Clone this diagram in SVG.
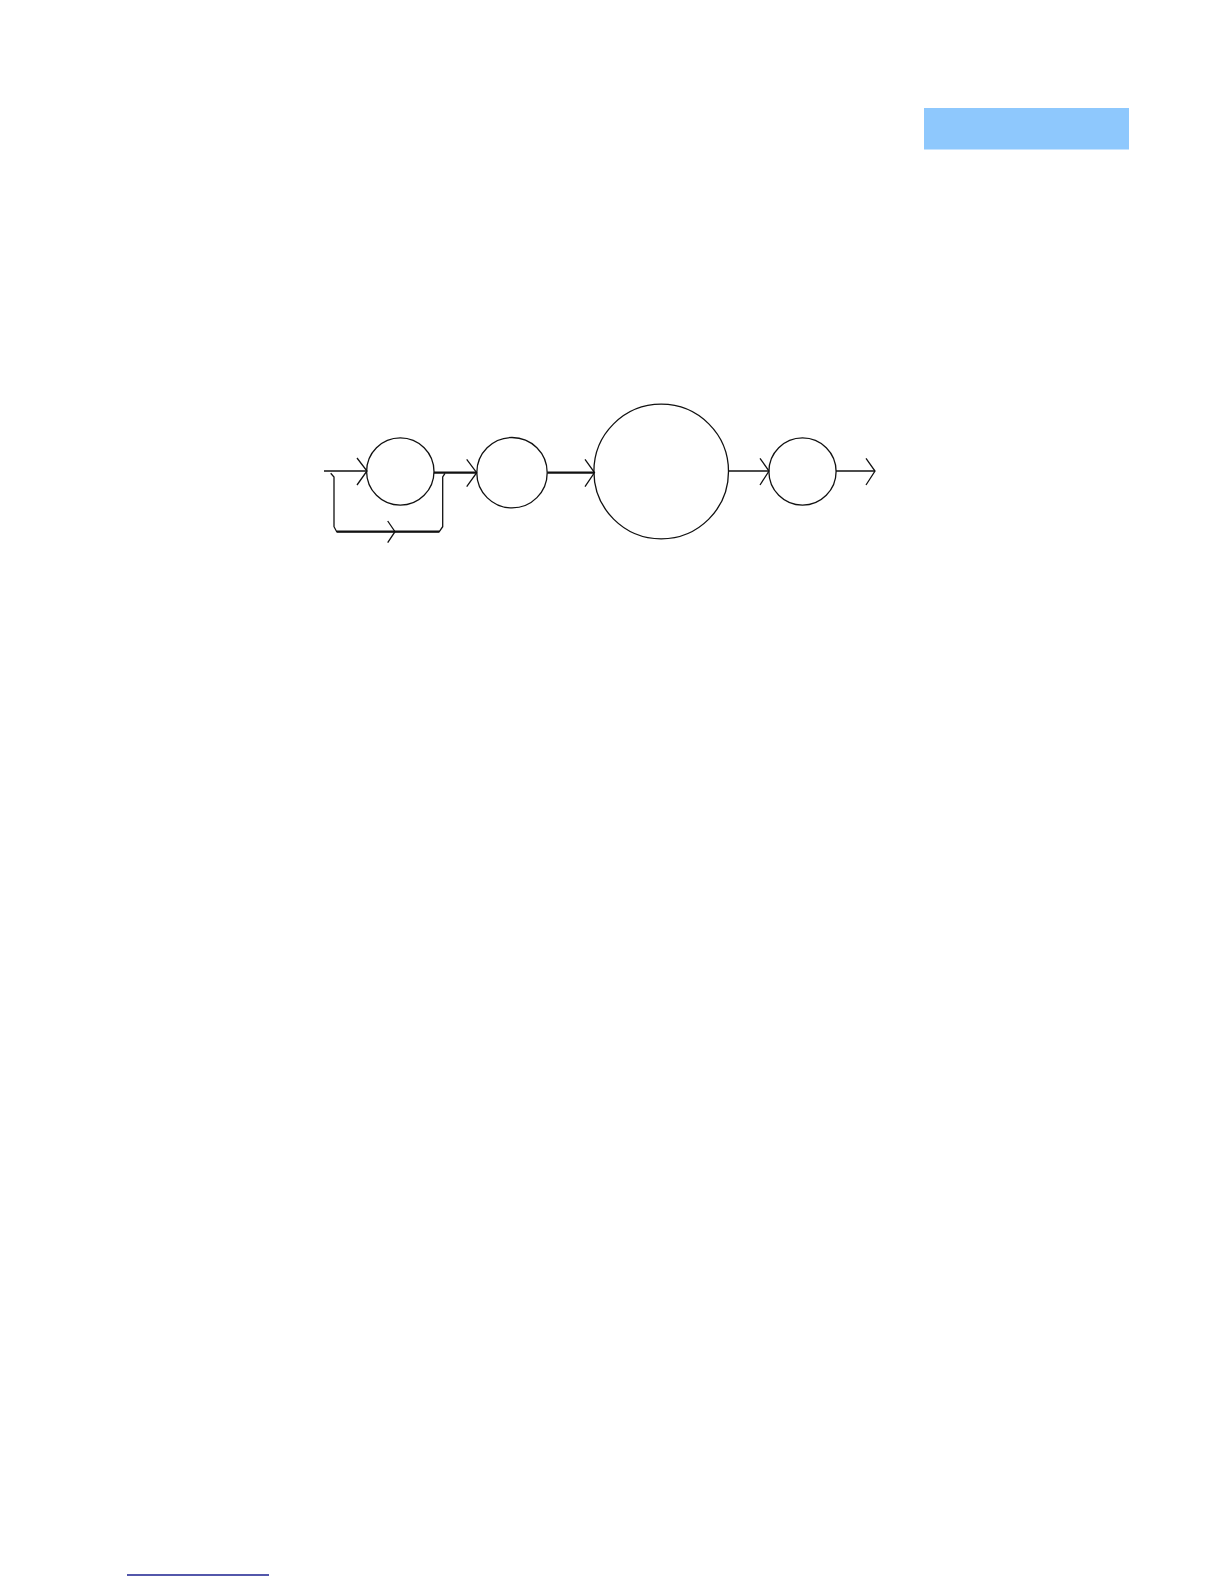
<svg xmlns="http://www.w3.org/2000/svg" width="1224" height="1584" viewBox="0 0 1224 1584">
<style>
.node{fill:none;stroke:#111;stroke-width:1.3}
.c{fill:none;stroke:#111;stroke-width:1.3;stroke-linejoin:miter}
.thick{stroke-width:2.2}
.head{fill:none;stroke:#111;stroke-width:1.3}
</style>
<rect width="1224" height="1584" fill="#fff"/>
<rect id="banner" x="924" y="108" width="205" height="41.5" fill="#8EC8FD"/>
<line id="footer-rule" x1="127" y1="1575" x2="269" y2="1575" stroke="#1a1f8f" stroke-width="1.3"/>
<g id="connectors">
<path class="c" d="M324,471 H366.7"/>
<path class="head" d="M357,458 L367,471 L357,485"/>
<path class="c" d="M330.7,473.3 L334,477 V526.7 L336.7,531.7 H439.3 L442.7,526.7 V477 L445,473.3"/>
<path class="c thick" d="M336.7,531.7 H439.3"/>
<path class="head" d="M387.7,521 L395,531.7 L387.7,542.7"/>
<path class="c thick" d="M434,472.7 H476.7"/>
<path class="head" d="M466.7,459.3 L476.7,472.7 L466.7,486.7"/>
<path class="c thick" d="M547.3,472.7 H594"/>
<path class="head" d="M585,459.3 L594.5,472.5 L585,486.7"/>
<path class="c" d="M728.3,471 H769"/>
<path class="head" d="M760,458.3 L769,471 L760,485"/>
<path class="c" d="M836,471 H875" stroke="#555"/>
<path class="head" d="M866,458.3 L875,471 L866,485" stroke="#444"/>
</g>
<g id="n1"><circle class="node" cx="400.3" cy="471.5" r="33.7"/></g>
<g id="n2"><circle class="node" cx="512" cy="472.7" r="35.2"/></g>
<g id="n3"><circle class="node" cx="661.2" cy="471.5" r="67.3"/></g>
<g id="n4"><circle class="node" cx="802.5" cy="471.5" r="33.6"/></g>
</svg>
